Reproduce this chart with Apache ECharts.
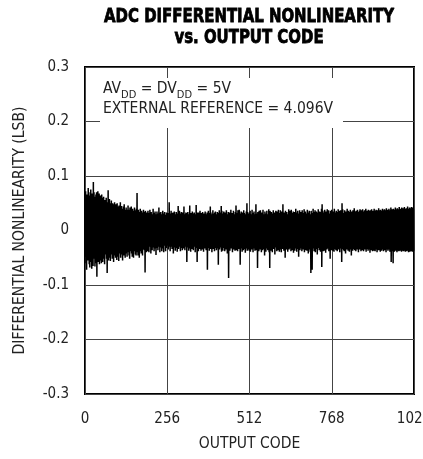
<!DOCTYPE html>
<html>
<head>
<meta charset="utf-8">
<script src="https://cdn.jsdelivr.net/npm/echarts@6/dist/echarts.min.js"></script>
<style>html,body{margin:0;padding:0;background:#fff;}#c{width:423px;height:459px;}</style>
</head>
<body>
<div id="c"></div>
<script>
// DNL per output code, in units of 0.001 LSB (codes 0..1023)
const dnlMilli = [
55,-48,72,-60,48,-72,66,-40,62,-55,78,-45,70,-62,58,-68,64,-42,75,-58,50,-70,68,-38,60,-65,89,-52,70,-45,62,-66,
58,-60,66,-50,70,-85,60,-48,72,-58,55,-40,68,-62,50,-55,64,-45,58,-60,66,-38,52,-58,60,-48,62,-52,45,-62,56,-44,
54,-40,60,-52,45,-78,52,-42,74,-55,48,-38,58,-50,42,-56,50,-44,55,-36,46,-52,50,-40,44,-58,48,-36,52,-46,40,-50,
48,-38,42,-54,50,-32,44,-48,38,-56,46,-36,40,-42,52,-50,36,-44,45,-34,40,-55,38,-40,44,-46,48,-30,38,-50,36,-42,
42,-36,38,-48,34,-40,46,-32,38,-46,35,-52,42,-30,40,-38,44,-42,32,-48,40,-34,36,-50,33,-38,42,-30,37,-44,35,-46,
40,-32,69,-40,30,-46,38,-28,34,-50,32,-36,40,-38,28,-42,36,-30,33,-46,30,-35,38,-30,34,-36,32,-77,36,-28,30,-40,
33,-28,30,-38,36,-25,28,-40,32,-30,38,-26,29,-42,34,-24,30,-36,27,-31,40,-25,32,-38,28,-33,35,-27,30,-45,26,-32,
35,-24,31,-36,27,-30,42,-26,29,-40,33,-23,34,-31,28,-38,30,-25,36,-33,26,-40,31,-28,34,-24,29,-38,27,-32,33,-28,
30,-26,32,-35,28,-30,52,-24,29,-38,31,-27,36,-30,25,-34,32,-28,33,-42,27,-31,35,-25,30,-37,26,-32,34,-29,31,-39,
28,-25,45,-34,27,-30,36,-23,31,-38,26,-32,34,-28,30,-36,33,-24,28,-33,44,-27,30,-36,27,-30,33,-26,29,-58,32,-25,
34,-31,28,-37,30,-26,46,-33,26,-39,32,-28,30,-34,35,-23,27,-36,31,-30,33,-26,28,-40,30,-27,47,-32,25,-58,33,-27,
29,-38,33,-25,28,-34,36,-30,27,-37,32,-26,30,-35,34,-24,29,-39,31,-28,26,-33,35,-31,30,-36,27,-25,33,-72,31,-32,
36,-27,29,-37,32,-24,44,-34,33,-31,30,-40,27,-26,37,-34,31,-29,26,-38,33,-25,35,-32,28,-36,30,-27,34,-33,29,-63,
32,-25,37,-35,28,-31,33,-29,45,-39,36,-26,27,-37,31,-32,35,-25,29,-38,33,-30,26,-35,37,-28,30,-42,28,-32,34,-87,
30,-27,33,-37,31,-29,38,-33,28,-31,32,-40,29,-25,36,-35,30,-30,27,-37,34,-26,46,-36,32,-32,28,-38,37,-28,26,-34,
38,-29,31,-63,28,-33,35,-26,30,-39,33,-31,27,-36,37,-27,32,-34,29,-41,30,-28,35,-33,50,-37,34,-30,31,-35,28,-37,
33,-28,36,-39,30,-32,27,-35,38,-29,32,-40,28,-31,35,-33,30,-37,27,-26,48,-36,31,-30,29,-69,34,-28,26,-38,36,-33,
30,-35,37,-27,29,-40,33,-31,27,-36,38,-32,30,-34,28,-46,35,-29,31,-39,26,-33,36,-32,30,-36,29,-28,39,-40,32,-69,
36,-31,28,-37,34,-27,31,-40,30,-32,37,-34,26,-29,33,-44,30,-31,36,-28,29,-38,35,-33,27,-36,38,-26,32,-39,30,-35,
37,-28,30,-40,35,-30,27,-34,48,-32,29,-37,33,-27,31,-50,36,-32,28,-35,34,-31,30,-39,26,-29,39,-35,31,-33,36,-27,
29,-38,38,-31,32,-36,28,-32,35,-41,31,-28,34,-37,27,-33,40,-30,30,-39,33,-27,36,-34,31,-48,29,-31,37,-36,26,-33,
34,-29,31,-38,37,-32,28,-35,32,-31,39,-40,30,-28,35,-36,31,-33,27,-37,38,-30,33,-42,29,-32,36,-35,30,-39,28,-78,
36,-31,32,-72,30,-33,40,-28,34,-38,29,-31,37,-40,31,-30,35,-34,28,-44,33,-32,39,-29,31,-36,35,-31,30,-39,34,-33,
40,-67,48,-35,36,-38,29,-32,33,-37,38,-28,31,-41,35,-31,30,-35,39,-33,32,-29,37,-38,31,-34,28,-52,36,-31,33,-36,
38,-32,31,-37,35,-30,29,-39,40,-34,33,-31,31,-36,36,-33,30,-38,34,-31,39,-35,32,-29,36,-40,31,-33,37,-31,30,-58,
50,-34,39,-31,32,-36,31,-38,37,-30,33,-42,35,-32,31,-35,40,-31,30,-37,36,-33,34,-39,31,-31,38,-35,32,-46,35,-31,
33,-37,37,-32,31,-34,41,-36,35,-31,32,-38,36,-30,31,-35,38,-33,34,-40,31,-31,36,-35,39,-32,33,-38,37,-34,31,-36,
39,-31,35,-38,32,-33,37,-35,34,-31,40,-39,31,-34,36,-32,33,-37,38,-35,36,-31,32,-41,37,-33,35,-36,39,-31,34,-38,
36,-34,33,-37,40,-32,36,-38,34,-35,38,-31,35,-40,37,-33,32,-36,41,-36,37,-34,34,-39,38,-32,36,-37,33,-35,40,-33,
37,-38,35,-32,39,-36,37,-34,33,-40,41,-35,36,-33,38,-37,34,-35,40,-32,37,-39,35,-34,42,-58,37,-33,39,-38,36,-60,
40,-36,38,-39,36,-33,42,-37,39,-35,37,-40,41,-34,39,-37,38,-38,43,-36,39,-37,40,-35,37,-39,42,-37,39,-34,41,-38,
39,-37,43,-35,40,-39,38,-37,41,-38,40,-36,44,-37,40,-40,39,-37,42,-39,41,-37,40,-38,43,-36,40,-39,42,-37,40,-37
];
const xTicks = [0, 256, 512, 768, 1024];
const yTicks = [-0.3, -0.2, -0.1, 0, 0.1, 0.2, 0.3];
const titleLines = ['ADC DIFFERENTIAL NONLINEARITY', 'vs. OUTPUT CODE'];
const xName = 'OUTPUT CODE';
const yName = 'DIFFERENTIAL NONLINEARITY (LSB)';
const noteLine1 = ['AV', 'DD', ' = DV', 'DD', ' = 5V'];
const noteLine2 = 'EXTERNAL REFERENCE = 4.096V';
const figId = 'MAX1010toc05';

const FONT = '"Liberation Sans Narrow", "DejaVu Sans Condensed", sans-serif';
const chart = echarts.init(document.getElementById('c'), null, {renderer: 'canvas'});
const seriesData = dnlMilli.map((v, i) => [i, v / 1000]);

chart.setOption({
  animation: false,
  backgroundColor: '#fff',
  grid: {left: 85, right: 9, top: 67, bottom: 65, containLabel: false, outerBoundsMode: 'none',
    show: true, borderColor: '#000', borderWidth: 2, backgroundColor: 'transparent'},
  xAxis: {
    type: 'value', min: xTicks[0], max: xTicks[xTicks.length - 1], interval: 256,
    name: xName, nameLocation: 'middle', nameGap: 42,
    nameTextStyle: {fontFamily: FONT, fontSize: 15.5, color: '#222'},
    axisLine: {show: false}, axisTick: {show: false},
    axisLabel: {fontFamily: FONT, fontSize: 15, color: '#222', margin: 18, showMaxLabel: true, showMinLabel: true,
      formatter: v => String(Math.round(v))},
    splitLine: {show: true, lineStyle: {color: '#444', width: 1}}
  },
  yAxis: {
    type: 'value', min: yTicks[0], max: yTicks[yTicks.length - 1], interval: 0.1,
    name: yName, nameLocation: 'middle', nameGap: 57,
    nameTextStyle: {fontFamily: FONT, fontSize: 15.5, color: '#222'},
    axisLine: {show: false}, axisTick: {show: false},
    axisLabel: {fontFamily: FONT, fontSize: 15, color: '#222', margin: 16,
      formatter: v => { const r = Math.round(v * 10) / 10; return r === 0 ? '0' : String(r); }},
    splitLine: {show: true, lineStyle: {color: '#444', width: 1}}
  },
  series: [{
    type: 'line', data: seriesData, showSymbol: false, symbol: 'none',
    lineStyle: {color: '#000', width: 1.5}, z: 3, silent: true
  }],
  graphic: [
    {type: 'text', x: 249, y: 6, scaleX: 0.83, z: 10,
      style: {text: titleLines.join('\n'), fontFamily: FONT, fontWeight: 'bold', fontSize: 20, lineHeight: 21,
        fill: '#000', stroke: '#000', lineWidth: 0.8, textAlign: 'center'}},
    {type: 'rect', shape: {x: 100, y: 78, width: 243, height: 50}, style: {fill: '#fff'}, z: 10},
    {type: 'text', x: 103, y: 76, z: 11,
      style: {
        rich: {n: {fontFamily: FONT, fontSize: 15.5, fill: '#222', lineHeight: 25, verticalAlign: 'middle'},
               s: {fontFamily: FONT, fontSize: 11, fill: '#222', lineHeight: 11, verticalAlign: 'bottom'}},
        text: '{n|' + noteLine1[0] + '}{s|' + noteLine1[1] + '}{n|' + noteLine1[2] + '}{s|' + noteLine1[3] + '}{n|' + noteLine1[4] + '}'
      }},
    {type: 'text', x: 103, y: 101, z: 11,
      style: {text: noteLine2, fontFamily: FONT, fontSize: 15.5, fill: '#222'}},
    {type: 'text', x: 422, y: 68, rotation: -Math.PI / 2, z: 11,
      style: {text: figId, fontFamily: FONT, fontSize: 7, fill: '#555', textAlign: 'left', textVerticalAlign: 'bottom'}}
  ]
});
</script>
</body>
</html>
